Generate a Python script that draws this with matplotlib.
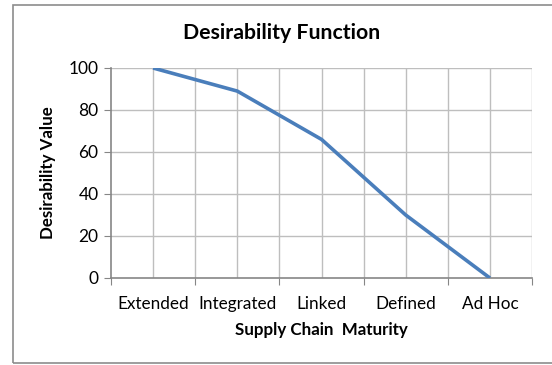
import matplotlib

matplotlib.use("Agg")
import matplotlib.pyplot as plt
from matplotlib.patches import Rectangle
from matplotlib.ticker import FixedLocator, MultipleLocator

categories = ["Extended", "Integrated", "Linked", "Defined", "Ad Hoc"]
desirability = [100, 89, 66, 30, 0]

plt.rcParams["font.family"] = ["Lato", "DejaVu Sans"]

W, H = 552, 365
fig = plt.figure(figsize=(W / 100, H / 100), dpi=100)
ax = fig.add_axes([111 / W, 1 - 278 / H, (532 - 111) / W, (278 - 68) / H])

# chart border (right edge is cut off in the original)
fig.patches.append(Rectangle((13 / W, 1 - 363 / H), 1.2, (363 - 5) / H,
                             transform=fig.transFigure, fill=False,
                             ec="#8c8c8c", lw=1.2))

x = list(range(len(categories)))
ax.plot(x, desirability, color="#4a7ebb", lw=2.6, solid_capstyle="butt", zorder=3)

ax.set_xlim(-0.5, len(categories) - 0.5)
ax.set_ylim(0, 100)
ax.yaxis.set_major_locator(MultipleLocator(20))
ax.xaxis.set_major_locator(FixedLocator([i - 0.5 for i in range(len(categories) + 1)]))
ax.xaxis.set_minor_locator(FixedLocator(x))
ax.set_xticklabels([""] * (len(categories) + 1))
ax.set_xticklabels(categories, minor=True)

# gridlines every half category, every 20 in y
for gx in [i * 0.5 - 0.5 for i in range(1, 2 * len(categories) + 1)]:
    ax.axvline(gx, color="#bebebe", lw=1.0, zorder=1)
for gy in range(20, 101, 20):
    ax.axhline(gy, color="#bebebe", lw=1.0, zorder=1)

for s in ("top", "right"):
    ax.spines[s].set_visible(False)
for s in ("left", "bottom"):
    ax.spines[s].set_color("#868686")
    ax.spines[s].set_linewidth(1.2)
    ax.spines[s].set_zorder(2)

ax.tick_params(axis="y", which="major", length=5, color="#868686", labelsize=12.5, pad=4)
ax.tick_params(axis="x", which="major", length=5, color="#868686")
ax.tick_params(axis="x", which="minor", length=0, labelsize=12.3, pad=13)

fig.text(282 / W, 1 - 33 / H, "Desirability Function", fontsize=15.3,
         fontweight="bold", ha="center", va="center")
ax.set_ylabel("Desirability Value", fontsize=12.2, fontweight="bold", va="center")
ax.yaxis.set_label_coords((48 - 111) / 421, 0.5)
ax.set_xlabel("Supply Chain  Maturity", fontsize=12.2, fontweight="bold", va="center")
ax.xaxis.set_label_coords(0.5, (278 - 330) / 210)

fig.savefig("out.png", dpi=100)
